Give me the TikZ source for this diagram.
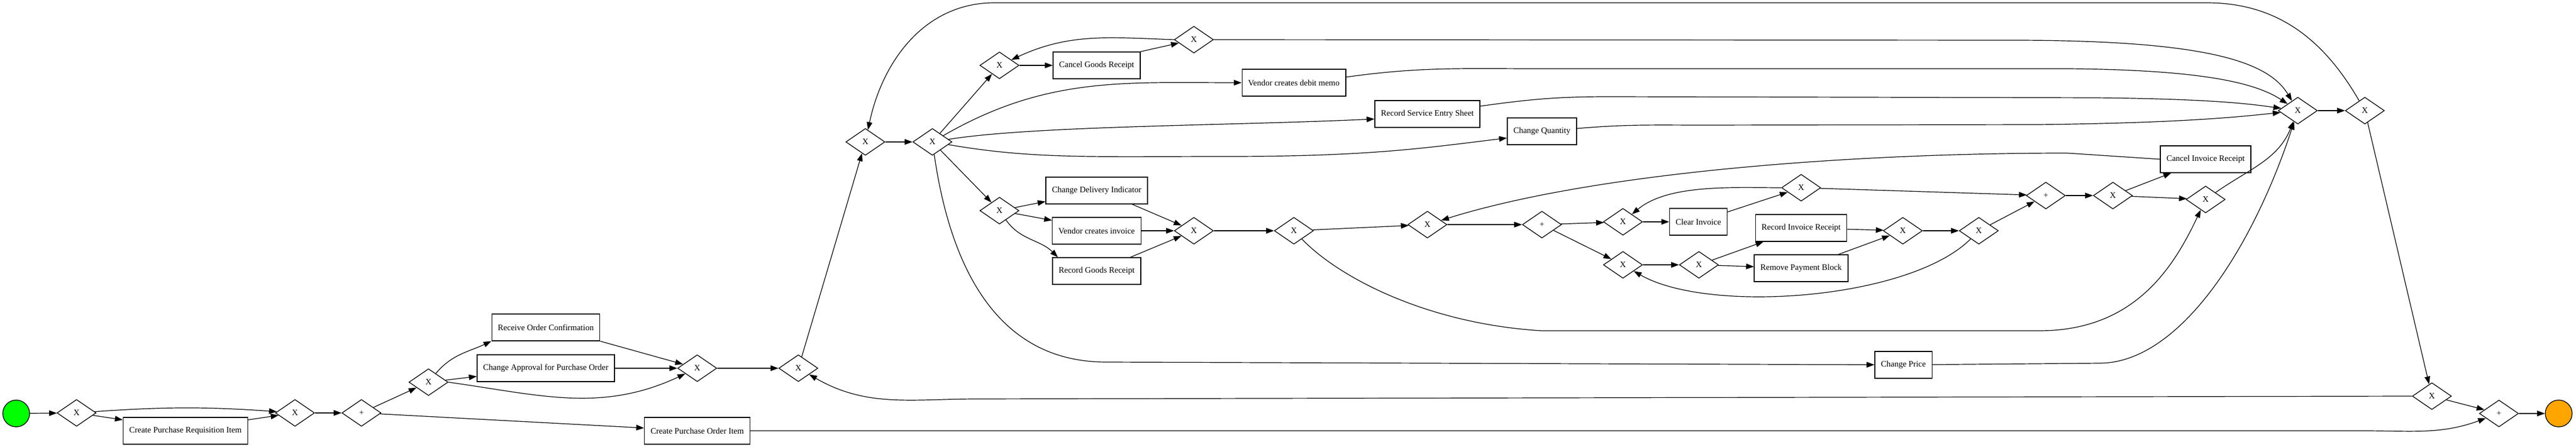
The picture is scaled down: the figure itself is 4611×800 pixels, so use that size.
\documentclass[tikz,border=0pt]{standalone}
\usepackage{fontspec}
\setmainfont{Liberation Serif}
\usetikzlibrary{shapes.geometric,arrows.meta}
\definecolor{endorange}{HTML}{FFA500}

\begin{document}
\begin{tikzpicture}[x=1pt,y=1pt,font=\fontsize{15}{18}\selectfont,
                    task/.style={draw,line width=1.3pt,rectangle,minimum height=48pt,inner xsep=11pt},
                    gate/.style={draw,line width=1.3pt,diamond,minimum width=70pt,minimum height=48pt,inner sep=0pt},
                    event/.style={draw,line width=1.3pt,circle,minimum size=48pt,inner sep=0pt},
                    flow/.style={line width=1.2pt,-{Triangle[length=14pt,width=10pt]}}]
                    \useasboundingbox (0,0) rectangle (4611,800);
                    % start and purchase requisition
                    \node[event,fill=green] (start) at (29,60) {};
                    \node[gate] (g1) at (137,61) {X};
                    \node[task] (cpri) at (332,29) {Create Purchase Requisition Item};
                    \node[gate] (g2) at (528,61) {X};
                    \node[gate] (g3) at (647,61) {+};
                    \node[gate] (g4) at (767,116) {X};
                    \node[task] (roc) at (977,214) {Receive Order Confirmation};
                    \node[task] (capo) at (977,141) {Change Approval for Purchase Order};
                    \node[gate] (g5) at (1248,141) {X};
                    \node[gate] (g6) at (1429,141) {X};
                    \node[task] (cpoi) at (1248,29) {Create Purchase Order Item};
                    % main loop
                    \node[gate] (g7) at (1549,546) {X};
                    \node[gate] (g8) at (1669,546) {X};
                    \node[gate] (g9) at (1789,683) {X};
                    \node[task] (cgr) at (1963,683) {Cancel Goods Receipt};
                    \node[gate] (g10) at (2137,729) {X};
                    \node[task] (vcdm) at (2316,652) {Vendor creates debit memo};
                    \node[task] (rses) at (2555,596) {Record Service Entry Sheet};
                    \node[task] (cq) at (2760,565) {Change Quantity};
                    \node[gate] (g11) at (1789,423) {X};
                    \node[task] (cdi) at (1963,459) {Change Delivery Indicator};
                    \node[task] (vci) at (1963,387) {Vendor creates invoice};
                    \node[task] (rgr) at (1963,315) {Record Goods Receipt};
                    \node[gate] (g12) at (2137,387) {X};
                    \node[gate] (g13) at (2316,387) {X};
                    \node[task] (cp) at (3407,147) {Change Price};
                    % invoice part
                    \node[gate] (g14) at (2555,398) {X};
                    \node[gate] (g15) at (2760,398) {+};
                    \node[gate] (g16) at (2905,403) {X};
                    \node[task] (ci) at (3040,403) {Clear Invoice};
                    \node[gate] (g17) at (3224,464) {X};
                    \node[gate] (g18) at (2905,326) {X};
                    \node[gate] (g19) at (3041,326) {X};
                    \node[task] (rir) at (3224,392) {Record Invoice Receipt};
                    \node[task] (rpb) at (3224,320) {Remove Payment Block};
                    \node[gate] (g23) at (3406,387) {X};
                    \node[gate] (g24) at (3542,387) {X};
                    \node[gate] (g20) at (3662,450) {+};
                    \node[gate] (g21) at (3782,450) {X};
                    \node[task] (cir) at (3948,515) {Cancel Invoice Receipt};
                    \node[gate] (g22) at (3948,443) {X};
                    % end
                    \node[gate] (g25) at (4113,602) {X};
                    \node[gate] (g26) at (4233,602) {X};
                    \node[gate] (g27) at (4353,91) {X};
                    \node[gate] (g28) at (4473,60) {+};
                    \node[event,fill=endorange] (stop) at (4580,60) {};
                    % flows
                    \draw[flow] (start) -- (g1);
                    \draw[flow] (g1) to[bend left=4] (g2);
                    \draw[flow] (g1) -- ([yshift=-5pt]cpri.north west);
                    \draw[flow] ([yshift=-5pt]cpri.north east) -- (g2);
                    \draw[flow] (g2) -- (g3);
                    \draw[flow] (g3) -- (g4);
                    \draw[flow] (g3) -- ([yshift=5pt]cpoi.west);
                    \draw[flow] (g4) to[out=50,in=205] (roc.south west);
                    \draw[flow] (g4) -- ([yshift=10pt]capo.south west);
                    \draw[flow] (g4.east) to[out=-8,in=205] (g5);
                    \draw[flow] (roc.south east) -- (g5);
                    \draw[flow] (capo) -- (g5);
                    \draw[flow] (g5) -- (g6);
                    \draw[flow] (g6) -- (g7);
                    \draw[flow] (g7) -- (g8);
                    \draw[flow] (g8) -- (g9);
                    \draw[flow] (g9) -- (cgr);
                    \draw[flow] (cgr.north east) -- (g10);
                    \draw[flow] (g10.west) to[out=178,in=25] (g9);
                    \draw[flow] (g10) -- (3600,728) .. controls (3950,728) and (4060,690) .. (g25);
                    \draw[flow] (g8) to[out=30,in=180] (vcdm);
                    \draw[flow] ([yshift=10pt]vcdm.east) to[out=8,in=180] (2750,677) -- (3700,677) .. controls (3950,675) and (4040,650) .. (g25);
                    \draw[flow] (g8) .. controls (1850,575) and (2200,575) .. ([yshift=-9pt]rses.west);
                    \draw[flow] ([yshift=14pt]rses.east) to[out=8,in=180] (2880,627) -- (3750,625) .. controls (3950,623) and (4020,615) .. (g25);
                    \draw[flow] (g8) .. controls (1850,515) and (1950,520) .. (2200,520) .. controls (2450,520) and (2550,535) .. ([yshift=-12pt]cq.west);
                    \draw[flow] ([yshift=5pt]cq.east) to[out=5,in=180] (3050,576) -- (3650,577) .. controls (3900,580) and (4000,590) .. (g25);
                    \draw[flow] (g8) -- (g11);
                    \draw[flow] (g11) -- ([yshift=5pt]cdi.south west);
                    \draw[flow] (g11) -- ([yshift=-6pt]vci.north west);
                    \draw[flow] (g11) to[out=-55,in=135] ([xshift=10pt]rgr.north west);
                    \draw[flow] ([xshift=-28pt]cdi.south east) -- (g12);
                    \draw[flow] (vci) -- (g12);
                    \draw[flow] ([xshift=-19pt]rgr.north east) -- (g12);
                    \draw[flow] (g12) -- (g13);
                    \draw[flow] (g13) -- (g14);
                    \draw[flow] (g13) .. controls (2400,300) and (2560,220) .. (2760,208) -- (3650,208) .. controls (3820,208) and (3890,320) .. (g22);
                    \draw[flow] (g8) .. controls (1700,330) and (1780,152) .. (1980,152) -- (cp);
                    \draw[flow] (cp) -- (3760,150) .. controls (3900,152) and (4030,350) .. (g25);
                    \draw[flow] (g14) -- (g15);
                    \draw[flow] (g15) -- (g16);
                    \draw[flow] (g15) -- (g18);
                    \draw[flow] (g16) -- (ci);
                    \draw[flow] ([yshift=-7pt]ci.north east) -- (g17);
                    \draw[flow] (g17.west) to[out=180,in=40,looseness=0.8] (g16);
                    \draw[flow] (g17) -- (g20);
                    \draw[flow] (g18) -- (g19);
                    \draw[flow] (g19) -- ([xshift=15pt]rir.south west);
                    \draw[flow] (g19) -- (rpb);
                    \draw[flow] (rir) -- (g23);
                    \draw[flow] ([xshift=-18pt]rpb.north east) -- (g23);
                    \draw[flow] (g23) -- (g24);
                    \draw[flow] (g24) -- (g20);
                    \draw[flow] (g24) to[out=-135,in=-30,looseness=0.65] (g18);
                    \draw[flow] (g20) -- (g21);
                    \draw[flow] (g21) -- ([xshift=20pt]cir.south west);
                    \draw[flow] (g21) -- (g22);
                    \draw[flow] (cir.west) -- (3700,526) .. controls (3300,526) and (2850,490) .. (g14);
                    \draw[flow] (g22) to[out=35,in=-112] (g25);
                    \draw[flow] (g25) -- (g26);
                    \draw[flow] (g26) to[out=120,in=0] (3950,795) -- (1780,795) to[out=180,in=78] (g7);
                    \draw[flow] (g26) -- (g27);
                    \draw[flow] (g27.west) -- (1750,86) to[out=180,in=-30] (g6);
                    \draw[flow] (g27) -- (g28);
                    \draw[flow] (cpoi) -- (4230,29) to[out=0,in=-160] (g28);
                    \draw[flow] (g28) -- (stop);
                \end{tikzpicture}
\end{document}
